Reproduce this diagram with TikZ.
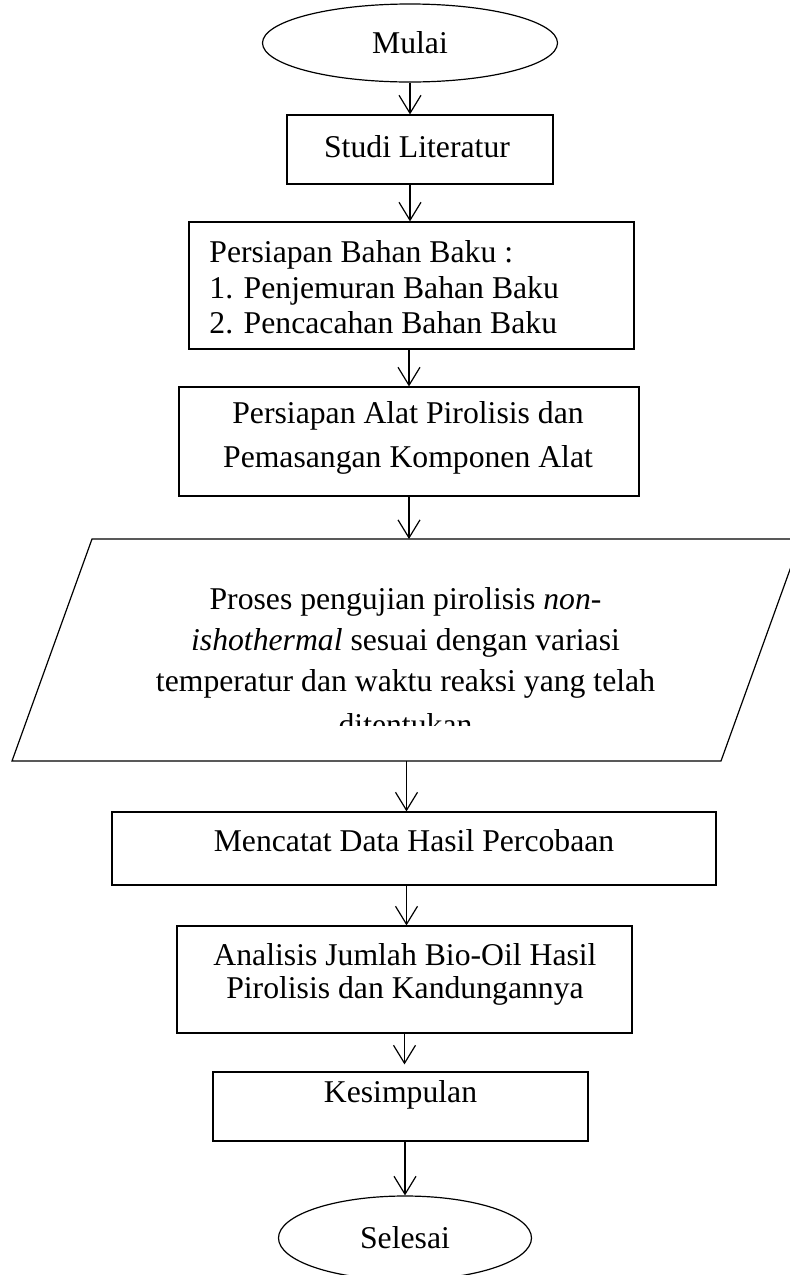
\documentclass[tikz,border=0pt]{standalone}
\usepackage{fontspec}
\setmainfont{Liberation Serif}
\usetikzlibrary{shapes.geometric,arrows.meta}

\begin{document}
\begin{tikzpicture}[x=0.5pt, y=-0.5pt,
	box/.style={draw, line width=0.6pt, inner sep=0pt},
	txt/.style={inner sep=0pt, font=\fontsize{15.85}{19}\selectfont},
	arr/.style={line width=0.6pt, -{Straight Barb[length=9pt, width=11pt]}}]
	\useasboundingbox (0,0) rectangle (789,1275);
	\node[box, ellipse, minimum width=147.5pt, minimum height=39pt, txt] (mulai) at (410,43) {Mulai};
	\node[box, minimum width=133pt, minimum height=34.5pt] (studi) at (420,149.5) {};
	\node[txt, anchor=base] (studitxt) at (417,157) {Studi Literatur};
	\node[box, minimum width=222.5pt, minimum height=63.5pt] (bahan) at (411.5,285.5) {};
	\node[txt, anchor=north west, align=left, font=\fontsize{15.85}{17.75}\selectfont] (bahantxt) at (209,240.3) {Persiapan Bahan Baku :\\1. Penjemuran Bahan Baku\\2. Pencacahan Bahan Baku};
	\node[box, minimum width=230pt, minimum height=54.5pt] (alat) at (409,441.5) {};
	\node[txt, anchor=north, align=center, font=\fontsize{15.85}{22}\selectfont] (alattxt) at (408,401.3) {Persiapan Alat Pirolisis dan\\Pemasangan Komponen Alat};
	\coordinate (proses) at (406.5,650);
	\coordinate (pbl) at (12,761);
	\coordinate (ptl) at (92,539);
	\coordinate (ptr) at (801,539);
	\coordinate (pbr) at (721,761);
	\draw[line width=0.6pt] (pbl) -- (ptl) -- (ptr) -- (pbr) -- cycle;
	\begin{scope}
		\clip (0,540) rectangle (789,725);
		\node[txt, anchor=north, align=center, font=\fontsize{15.85}{20.5}\selectfont] (prosestxt) at (405.5,587.3) {Proses pengujian pirolisis \textit{non-}\\\textit{ishothermal} sesuai dengan variasi\\temperatur dan waktu reaksi yang telah\\[1.5pt]ditentukan};
	\end{scope}
	\node[box, minimum width=302pt, minimum height=36.5pt] (catat) at (414,848.5) {};
	\node[txt, anchor=base] (catattxt) at (414,851) {Mencatat Data Hasil Percobaan};
	\node[box, minimum width=227.5pt, minimum height=53.5pt] (analisis) at (404.5,979.5) {};
	\node[txt, anchor=north, align=center, font=\fontsize{15.85}{16.5}\selectfont] (analisistxt) at (405,943.3) {Analisis Jumlah Bio-Oil Hasil\\Pirolisis dan Kandungannya};
	\node[box, minimum width=187.5pt, minimum height=34.5pt] (kesimpulan) at (400.5,1106.5) {};
	\node[txt, anchor=base] (kesimpulantxt) at (400.5,1102) {Kesimpulan};
	\node[box, ellipse, minimum width=126.5pt, minimum height=42pt, txt] (selesai) at (405,1238) {Selesai};
	\draw[arr] (mulai.south) -- (mulai.south |- studi.north);
	\draw[arr] (mulai.south |- studi.south) -- (mulai.south |- bahan.north);
	\draw[arr] (alat.north |- bahan.south) -- (alat.north);
	\draw[arr] (alat.south) -- (alat.south |- ptl);
	\draw[arr] (proses |- pbl) -- (proses |- catat.north);
	\draw[arr] (proses |- catat.south) -- (proses |- analisis.north);
	\draw[arr] (analisis.south) -- ([yshift=3.5pt]analisis.south |- kesimpulan.north);
	\draw[arr] (kesimpulan.south -| selesai.north) -- (selesai.north);
\end{tikzpicture}
\end{document}
